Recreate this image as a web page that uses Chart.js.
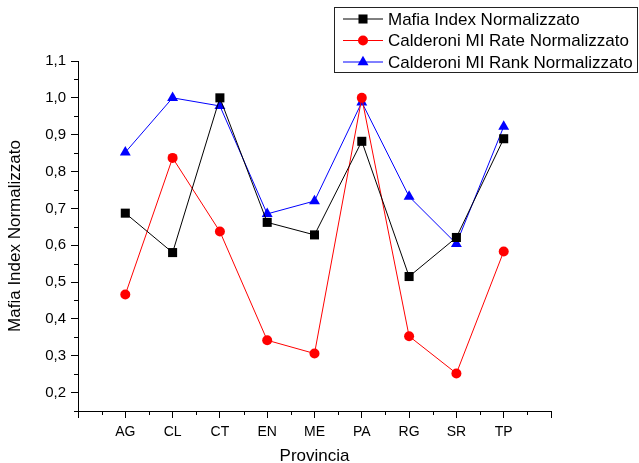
<!DOCTYPE html>
<html>
<head>
<meta charset="utf-8">
<script src="https://cdn.jsdelivr.net/npm/chart.js@4.4.1/dist/chart.umd.min.js"></script>
<style>
  html, body { margin: 0; padding: 0; background: #fff; }
  #wrap { width: 639px; height: 463px; }
</style>
</head>
<body>
<div id="wrap"><canvas id="mafiaCanvas" width="639" height="463"></canvas></div>
<script>
// province (x = 1..9)
var province = ['AG', 'CL', 'CT', 'EN', 'ME', 'PA', 'RG', 'SR', 'TP'];

var mafiaIndex = [0.687, 0.580, 1.000, 0.662, 0.628, 0.882, 0.515, 0.621, 0.889];
var calderoniRate = [0.466, 0.837, 0.637, 0.342, 0.306, 1.000, 0.353, 0.252, 0.583];
var calderoniRank = [0.852, 1.000, 0.978, 0.685, 0.720, 0.988, 0.732, 0.604, 0.922];

var yTicks = [0.2, 0.3, 0.4, 0.5, 0.6, 0.7, 0.8, 0.9, 1.0, 1.1];

function toPoints(values) {
    var pts = [];
    for (let i = 0; i < values.length; i++) {
        pts.push({x: i + 1, y: values[i]});
    }
    return pts;
}

function series(label, values, color, style, radius) {
    return {
        label: label,
        data: toPoints(values),
        borderColor: color,
        backgroundColor: color,
        borderWidth: 1,
        pointStyle: style,
        pointRadius: radius,
        pointHoverRadius: radius,
        pointBorderWidth: 0,
        pointBackgroundColor: color
    };
}

// short minor ticks halfway between the major ones
var minorTicks = {
    id: 'minorTicks',
    afterDraw(chart) {
        var ctx = chart.ctx;
        var xs = chart.scales.x, ys = chart.scales.y;
        ctx.save();
        ctx.strokeStyle = '#000';
        ctx.lineWidth = 1;
        ctx.beginPath();
        for (let v = 0.5; v < xs.max; v += 1) {
            var px = Math.round(xs.getPixelForValue(v)) + 0.5;
            ctx.moveTo(px, xs.top);
            ctx.lineTo(px, xs.top + 4);
        }
        for (let v = 0.15; v < ys.max; v += 0.1) {
            var py = Math.round(ys.getPixelForValue(v)) + 0.5;
            ctx.moveTo(ys.right, py);
            ctx.lineTo(ys.right - 4, py);
        }
        ctx.stroke();
        ctx.restore();
    }
};

// legend box in the top right corner, line + marker like the original
var boxLegend = {
    id: 'boxLegend',
    afterDraw(chart) {
        var ctx = chart.ctx;
        var left = 334.5, top = 7.5, w = 303, h = 65;
        ctx.save();
        ctx.fillStyle = '#fff';
        ctx.fillRect(left, top, w, h);
        ctx.strokeStyle = '#222';
        ctx.lineWidth = 1;
        ctx.strokeRect(left, top, w, h);
        ctx.font = '17px "Liberation Sans", Arial, sans-serif';
        ctx.textBaseline = 'middle';
        chart.data.datasets.forEach(function (ds, i) {
            var y = 19 + i * 21.5;
            ctx.strokeStyle = ds.borderColor;
            ctx.fillStyle = ds.borderColor;
            ctx.beginPath();
            ctx.moveTo(343, y);
            ctx.lineTo(383, y);
            ctx.stroke();
            var cx = 363, r = ds.pointRadius;
            ctx.beginPath();
            if (ds.pointStyle === 'rect') {
                var s = r * Math.SQRT1_2;
                ctx.rect(cx - s, y - s, 2 * s, 2 * s);
            } else if (ds.pointStyle === 'circle') {
                ctx.arc(cx, y, r, 0, Math.PI * 2);
            } else {
                ctx.moveTo(cx, y - r);
                ctx.lineTo(cx + r * 0.866, y + r / 2);
                ctx.lineTo(cx - r * 0.866, y + r / 2);
                ctx.closePath();
            }
            ctx.fill();
            ctx.fillStyle = '#000';
            ctx.fillText(ds.label, 388, y + 1);
        });
        ctx.restore();
    }
};

var font = '"Liberation Sans", Arial, sans-serif';

new Chart(document.getElementById('mafiaCanvas'), {
    type: 'line',
    data: {
        datasets: [
            series('Mafia Index Normalizzato', mafiaIndex, '#000000', 'rect', 6.4),
            series('Calderoni MI Rate Normalizzato', calderoniRate, '#ff0000', 'circle', 5),
            series('Calderoni MI Rank Normalizzato', calderoniRank, '#0000ff', 'triangle', 6.3)
        ]
    },
    options: {
        responsive: false,
        animation: false,
        layout: { padding: { top: 61, right: 88, bottom: 0, left: 0 } },
        plugins: {
            legend: { display: false },
            tooltip: { enabled: false }
        },
        scales: {
            x: {
                type: 'linear',
                min: 0,
                max: 10,
                afterBuildTicks: function (scale) {
                    var t = [];
                    for (let i = 0; i <= 10; i++) t.push({value: i});
                    scale.ticks = t;
                },
                afterFit: function (scale) { scale.height = 52; },
                ticks: {
                    autoSkip: false,
                    maxRotation: 0,
                    padding: 6,
                    color: '#000',
                    font: { family: font, size: 14 },
                    callback: function (v) { return province[v - 1] || ''; }
                },
                grid: { drawOnChartArea: false, tickLength: 7, color: '#000' },
                border: { color: '#000', width: 1 },
                title: {
                    display: true,
                    text: 'Provincia',
                    color: '#000',
                    font: { family: font, size: 17 },
                    padding: { top: -4, bottom: -4 }
                }
            },
            y: {
                min: 0.15,
                max: 1.1,
                afterBuildTicks: function (scale) {
                    scale.ticks = yTicks.map(function (v) { return {value: v}; });
                },
                afterFit: function (scale) { scale.width = 78; },
                ticks: {
                    padding: 5,
                    color: '#000',
                    font: { family: font, size: 15 },
                    callback: function (v) { return v.toFixed(1).replace('.', ','); }
                },
                grid: { drawOnChartArea: false, tickLength: 7, color: '#000' },
                border: { color: '#000', width: 1 },
                title: {
                    display: true,
                    text: 'Mafia Index Normalizzato',
                    color: '#000',
                    font: { family: font, size: 17 },
                    padding: { top: 5, bottom: 0 }
                }
            }
        }
    },
    plugins: [minorTicks, boxLegend]
});
</script>
</body>
</html>
